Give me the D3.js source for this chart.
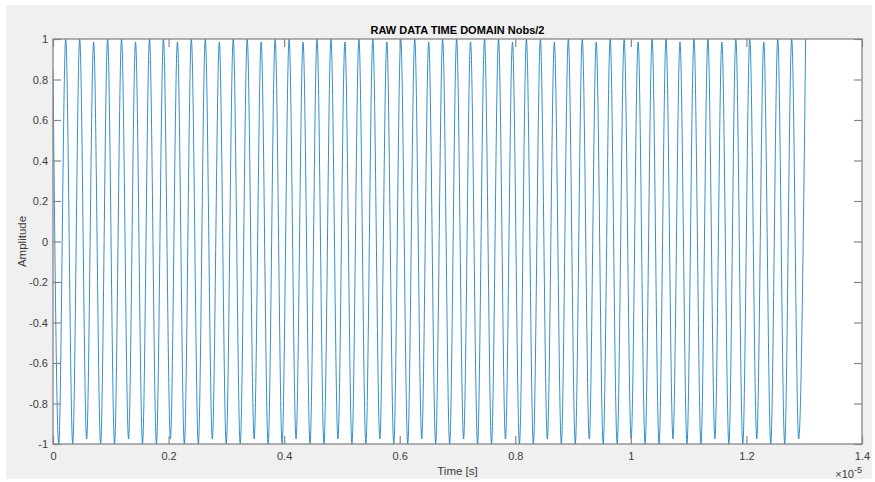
<!DOCTYPE html>
<html>
<head>
  <meta charset="utf-8">
  <title>RAW DATA TIME DOMAIN Nobs/2</title>
  <style>
    body { margin: 0; background: #ffffff; }
    text { font-family: "Liberation Sans", Arial, Helvetica, sans-serif; }
  </style>
</head>
<body>
  <svg width="875" height="482"></svg>
  <script src="https://d3js.org/d3.v7.min.js"></script>
  <script>
  // time values in units of 1e-5 s (axis shows x10^-5)
  var startT = 0;
  var startV = 0.85;

  // troughs (time, value)
  var troughT = [
    0.0099, 0.0341, 0.0582, 0.0824, 0.1065, 0.1307, 0.1549, 0.1790, 0.2032, 0.2273,
    0.2515, 0.2757, 0.2998, 0.3240, 0.3481, 0.3723, 0.3965, 0.4206, 0.4448, 0.4689,
    0.4931, 0.5173, 0.5414, 0.5656, 0.5897, 0.6139, 0.6381, 0.6622, 0.6864, 0.7105,
    0.7347, 0.7589, 0.7830, 0.8072, 0.8313, 0.8555, 0.8797, 0.9038, 0.9280, 0.9521,
    0.9763, 1.0005, 1.0246, 1.0488, 1.0729, 1.0971, 1.1213, 1.1454, 1.1696, 1.1937,
    1.2179, 1.2421, 1.2662, 1.2904
  ];
  var troughV = [
    -1, -1, -0.975, -1, -1, -0.975, -1, -1, -0.975, -1,
    -1, -0.975, -1, -1, -0.975, -1, -1, -0.975, -1, -1,
    -0.975, -1, -1, -0.975, -1, -1, -0.975, -1, -1, -0.975,
    -1, -1, -0.975, -1, -1, -0.975, -1, -1, -0.975, -1,
    -1, -0.975, -1, -1, -0.975, -1, -1, -0.975, -1, -1,
    -0.975, -1, -1, -0.975
  ];

  // peaks (time, value)
  var peakT = [
    0.0220, 0.0462, 0.0703, 0.0945, 0.1186, 0.1428, 0.1670, 0.1911, 0.2153, 0.2394,
    0.2636, 0.2878, 0.3119, 0.3361, 0.3602, 0.3844, 0.4086, 0.4327, 0.4569, 0.4810,
    0.5052, 0.5294, 0.5535, 0.5777, 0.6018, 0.6260, 0.6502, 0.6743, 0.6985, 0.7226,
    0.7468, 0.7710, 0.7951, 0.8193, 0.8434, 0.8676, 0.8918, 0.9159, 0.9401, 0.9642,
    0.9884, 1.0126, 1.0367, 1.0609, 1.0850, 1.1092, 1.1334, 1.1575, 1.1817, 1.2058,
    1.2300, 1.2542, 1.2783, 1.3025
  ];
  var peakV = [
    1, 1, 0.985, 1, 1, 0.985, 1, 1, 0.985, 1,
    1, 0.985, 1, 1, 0.985, 1, 1, 0.985, 1, 1,
    0.985, 1, 1, 0.985, 1, 1, 0.985, 1, 1, 0.985,
    1, 1, 0.985, 1, 1, 0.985, 1, 1, 0.985, 1,
    1, 0.985, 1, 1, 0.985, 1, 1, 0.985, 1, 1,
    0.985, 1, 1, 1
  ];

  var xTicks = [0, 0.2, 0.4, 0.6, 0.8, 1, 1.2, 1.4];
  var yTicks = [-1, -0.8, -0.6, -0.4, -0.2, 0, 0.2, 0.4, 0.6, 0.8, 1];

  // build the series: start, then trough/peak pairs
  var series = [{t: startT, v: startV}];
  troughT.forEach(function(t, i) {
    series.push({t: t, v: troughV[i]});
    series.push({t: peakT[i], v: peakV[i]});
  });

  var svg = d3.select("svg");
  var L = 53, T = 39, R = 862, B = 444;

  // figure background
  svg.append("rect")
    .attr("x", 6).attr("y", 5)
    .attr("width", 866).attr("height", 474)
    .attr("fill", "#f0f0f0");

  svg.append("rect")
    .attr("x", L).attr("y", T)
    .attr("width", R - L).attr("height", B - T)
    .attr("fill", "#ffffff");

  var x = d3.scaleLinear().domain([0, 1.4]).range([L, R]);
  var y = d3.scaleLinear().domain([-1, 1]).range([B, T]);

  var fmt = function(d) { return String(+d.toFixed(1)); };
  var axisColor = "#868686";

  function styleAxis(g) {
    g.select(".domain").remove();
    g.selectAll(".tick line").attr("stroke", axisColor).attr("stroke-width", 1.2);
    g.selectAll(".tick text")
      .attr("fill", "#3c3c3c")
      .style("font-size", "11px")
      .style("font-family", "'Liberation Sans', Arial, sans-serif");
  }

  // line
  var clip = svg.append("clipPath").attr("id", "plotclip");
  clip.append("rect").attr("x", L).attr("y", T - 1).attr("width", R - L).attr("height", B - T + 2);

  var line = d3.line()
    .x(function(d) { return x(d.t); })
    .y(function(d) { return y(d.v); })
    .curve(d3.curveMonotoneX);

  svg.append("path")
    .datum(series)
    .attr("clip-path", "url(#plotclip)")
    .attr("fill", "none")
    .attr("stroke", "#0072bd")
    .attr("stroke-width", 0.8)
    .attr("d", line);

  // axes
  svg.append("g")
    .attr("transform", "translate(0," + B + ")")
    .call(d3.axisBottom(x).tickValues(xTicks).tickFormat(fmt).tickSizeInner(-8).tickSizeOuter(0).tickPadding(8))
    .call(styleAxis);

  svg.append("g")
    .attr("transform", "translate(0," + T + ")")
    .call(d3.axisTop(x).tickValues(xTicks).tickFormat("").tickSizeInner(-8).tickSizeOuter(0))
    .call(styleAxis);

  svg.append("g")
    .attr("transform", "translate(" + L + ",0)")
    .call(d3.axisLeft(y).tickValues(yTicks).tickFormat(fmt).tickSizeInner(-8).tickSizeOuter(0).tickPadding(5))
    .call(styleAxis);

  svg.append("g")
    .attr("transform", "translate(" + R + ",0)")
    .call(d3.axisRight(y).tickValues(yTicks).tickFormat("").tickSizeInner(-8).tickSizeOuter(0))
    .call(styleAxis);

  // box
  svg.append("rect")
    .attr("x", L).attr("y", T)
    .attr("width", R - L).attr("height", B - T)
    .attr("fill", "none")
    .attr("stroke", axisColor)
    .attr("stroke-width", 1.3);

  // title and labels
  svg.append("text")
    .attr("x", (L + R) / 2).attr("y", 34)
    .attr("text-anchor", "middle")
    .style("font-size", "11px")
    .style("font-weight", "bold")
    .attr("fill", "#000000")
    .text("RAW DATA TIME DOMAIN Nobs/2");

  svg.append("text")
    .attr("x", (L + R) / 2).attr("y", 475)
    .attr("text-anchor", "middle")
    .style("font-size", "11.5px")
    .attr("fill", "#3c3c3c")
    .text("Time [s]");

  svg.append("text")
    .attr("transform", "translate(26," + (T + B) / 2 + ") rotate(-90)")
    .attr("text-anchor", "middle")
    .style("font-size", "11.5px")
    .attr("fill", "#3c3c3c")
    .text("Amplitude");

  var mult = svg.append("text")
    .attr("x", R).attr("y", 478)
    .attr("text-anchor", "end")
    .style("font-size", "11px")
    .attr("fill", "#3c3c3c");
  mult.append("tspan").text("\u00d710");
  mult.append("tspan").attr("dy", -5).style("font-size", "9px").text("-5");
  </script>
</body>
</html>
